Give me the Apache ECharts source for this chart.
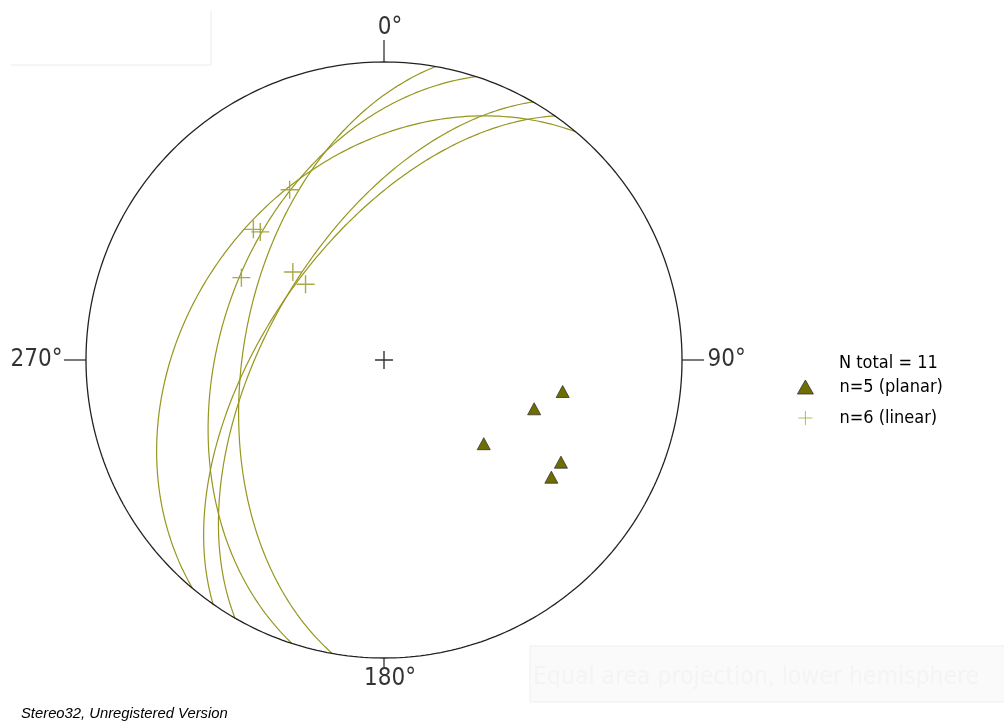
<!DOCTYPE html>
<html>
<head>
<meta charset="utf-8">
<script src="https://cdn.jsdelivr.net/npm/echarts@6/dist/echarts.min.js"></script>
<style>
  html, body { margin: 0; padding: 0; background: #ffffff; }
  #chart { width: 1004px; height: 724px; }
</style>
</head>
<body>
<div id="chart"></div>
<script>
// Planar measurements: dip direction / dip (degrees)
const planeDipDir = [280, 288, 300, 305, 310];
const planeDip    = [51, 44, 58, 58, 36];

// Linear measurements: trend / plunge (degrees)
const lineTrend  = [331, 315, 316, 300, 314, 314];
const linePlunge = [35, 38, 40, 44, 55, 60];

// Compass directions and their labels
const compassAngles = [0, 90, 180, 270];
const compassLabels = ['0°', '90°', '180°', '270°'];

const FONT = '"DejaVu Sans Condensed", "DejaVu Sans", "Liberation Sans", sans-serif';
const D2R = Math.PI / 180;
// tick length per compass direction, in primitive radii
const tickLen = { 0: 0.074, 90: 0.074, 180: 0.03, 270: 0.074 };

// Lambert equal-area (Schmidt) net, lower hemisphere, primitive radius = 1
function project(trend, plunge) {
  const r = Math.SQRT2 * Math.sin((90 - plunge) * D2R / 2);
  return [r * Math.sin(trend * D2R), r * Math.cos(trend * D2R)];
}

// Great circle of a plane, sampled from one strike end to the other
function greatCircle(dipDir, dip) {
  const strike = dipDir - 90;
  const s = [Math.sin(strike * D2R), Math.cos(strike * D2R), 0];
  const d = [Math.sin(dipDir * D2R) * Math.cos(dip * D2R),
             Math.cos(dipDir * D2R) * Math.cos(dip * D2R),
             Math.sin(dip * D2R)];
  const pts = [];
  for (let i = 0; i <= 180; i++) {
    const t = i * D2R;
    const v = [0, 1, 2].map(k => Math.cos(t) * s[k] + Math.sin(t) * d[k]);
    const trend = Math.atan2(v[0], v[1]) / D2R;
    const plunge = Math.asin(Math.max(-1, Math.min(1, v[2]))) / D2R;
    pts.push(project(trend, plunge));
  }
  return pts;
}

const primitive = [];
for (let a = 0; a <= 360; a++) primitive.push([Math.sin(a * D2R), Math.cos(a * D2R)]);

const poles = planeDipDir.map((dd, i) => project((dd + 180) % 360, 90 - planeDip[i]));
const lineations = lineTrend.map((t, i) => project(t, linePlunge[i]));

const planarName = 'n=' + planeDipDir.length + ' (planar)';
const linearName = 'n=' + lineTrend.length + ' (linear)';
const totalText = 'N total = ' + (planeDipDir.length + lineTrend.length);

const labelPos = { 0: 'top', 90: 'right', 180: 'bottom', 270: 'left' };
const labelOffset = { 0: [6, 3], 90: [0, 0], 180: [6, -4], 270: [2, 0] };

const series = [];

// primitive circle
series.push({
  type: 'line', data: primitive, showSymbol: false, symbol: 'none', clip: false,
  lineStyle: { color: '#222222', width: 1.3 }, silent: true, z: 3
});

// compass ticks, drawn outward from the primitive
series.push({
  type: 'custom', coordinateSystem: 'cartesian2d', clip: false, silent: true, z: 3,
  data: compassAngles.map(a => [Math.sin(a * D2R), Math.cos(a * D2R), tickLen[a]]),
  renderItem: function (params, api) {
    const x = api.value(0), y = api.value(1), L = api.value(2);
    const p0 = api.coord([x, y]);
    const p1 = api.coord([x * (1 + L), y * (1 + L)]);
    return {
      type: 'line',
      shape: { x1: p0[0], y1: p0[1], x2: p1[0], y2: p1[1] },
      style: { stroke: '#333333', lineWidth: 1.3 }
    };
  }
});

// compass labels at the outer ends of the ticks
series.push({
  type: 'scatter', symbolSize: 1, clip: false, silent: true,
  itemStyle: { color: 'rgba(0,0,0,0)' },
  data: compassAngles.map((a, i) => ({
    value: [Math.sin(a * D2R) * (1 + tickLen[a]), Math.cos(a * D2R) * (1 + tickLen[a])],
    label: {
      show: true, formatter: compassLabels[i], position: labelPos[a],
      offset: labelOffset[a], distance: 3,
      fontSize: 24, fontFamily: FONT, color: '#000000'
    }
  }))
});

// great circles
planeDipDir.forEach((dd, i) => {
  series.push({
    type: 'line', data: greatCircle(dd, planeDip[i]), symbol: 'none', clip: false,
    silent: true, z: 2,
    lineStyle: { color: '#96961e', width: 1.2 }
  });
});

// centre cross
series.push({
  type: 'scatter', data: [[0, 0]], symbol: 'path://M0,-10V10M-10,0H10', symbolSize: 18,
  silent: true, clip: false, z: 4,
  itemStyle: { color: 'rgba(0,0,0,0)', borderColor: '#333333', borderWidth: 1.4, opacity: 1 }
});

// lineations
series.push({
  name: linearName, type: 'scatter', data: lineations,
  symbol: 'path://M0,-10V10M-10,0H10', symbolSize: 18, clip: false, z: 5,
  itemStyle: { color: 'rgba(0,0,0,0)', borderColor: '#a4a440', borderWidth: 1.4, opacity: 0.95 }
});

// poles to planes
series.push({
  name: planarName, type: 'scatter', data: poles,
  symbol: 'triangle', symbolSize: [13, 12], clip: false, z: 6,
  itemStyle: { color: '#6e6e00', borderColor: '#333333', borderWidth: 0.8, opacity: 1 }
});

const chart = echarts.init(document.getElementById('chart'), null, { renderer: 'canvas' });
chart.setOption({
  backgroundColor: '#ffffff',
  animation: false,
  grid: { left: 86, top: 62, width: 596, height: 596 },
  xAxis: { type: 'value', min: -1, max: 1, show: false },
  yAxis: { type: 'value', min: -1, max: 1, show: false },
  legend: {
    orient: 'vertical', left: 792, top: 373,
    itemWidth: 16, itemHeight: 14, itemGap: 13,
    data: [planarName, linearName],
    itemStyle: { borderWidth: 0.8, opacity: 1 },
    textStyle: { fontSize: 18, fontFamily: FONT, color: '#000000', padding: [3, 0, 0, 21] },
    selectedMode: false
  },
  graphic: [
    { type: 'polyline', shape: { points: [[11, 65], [211, 65], [211, 11]] },
      style: { stroke: '#ececec', lineWidth: 1, fill: null }, silent: true },
    { type: 'rect', shape: { x: 530, y: 646, width: 480, height: 56 },
      style: { fill: '#fafafa', stroke: '#efefef', lineWidth: 1 }, silent: true },
    { type: 'text', left: 533, top: 665,
      style: { text: 'Equal area projection, lower hemisphere', fontSize: 24.5,
               fontFamily: FONT, fill: '#f4f4f4' }, silent: true },
    { type: 'text', left: 839, top: 354,
      style: { text: totalText, fontSize: 18, fontFamily: FONT, fill: '#000000' }, silent: true },
    { type: 'text', left: 21, top: 706,
      style: { text: 'Stereo32, Unregistered Version', fontSize: 14.8, fontStyle: 'italic',
               fontFamily: '"Liberation Sans", Arial, sans-serif', fill: '#000000' }, silent: true }
  ],
  series: series
});
</script>
</body>
</html>
